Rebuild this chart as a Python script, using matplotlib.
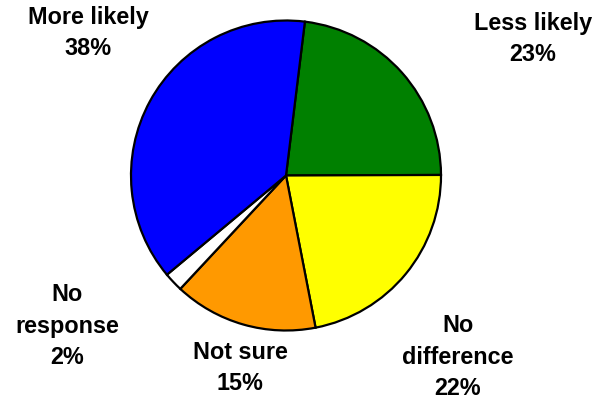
import matplotlib
matplotlib.use("Agg")
import matplotlib.pyplot as plt

categories = ["Less likely", "No difference", "Not sure", "No response", "More likely"]
values = [23, 22, 15, 2, 38]
colors = ["#008000", "#FFFF00", "#FF9900", "#FFFFFF", "#0000FF"]
label_texts = ["Less likely\n23%", "No\ndifference\n22%", "Not sure\n15%", "No\nresponse\n2%", "More likely\n38%"]
label_pos = [(1.594, 0.885), (1.110, -1.165), (-0.297, -1.235), (-1.413, -0.965), (-1.277, 0.925)]

plt.rcParams['font.family'] = ['Liberation Sans', 'DejaVu Sans']
fig = plt.figure(figsize=(5.95, 4.02), dpi=100)
ax = fig.add_axes([0, 0, 1, 1])
ax.pie(values, colors=colors, startangle=83.0, counterclock=False, radius=1,
       center=(0, 0), wedgeprops=dict(edgecolor="black", linewidth=1.6))
for t, (x, y) in zip(label_texts, label_pos):
    ax.text(x, y, t, ha="center", va="center", fontsize=16.8, fontweight="bold",
            linespacing=1.45)
cy = 176.5
ax.set_xlim(-286/155, (595-286)/155)
ax.set_ylim(-(402-cy)/155, cy/155)
ax.set_aspect("equal")
ax.axis("off")
fig.savefig("out.png", dpi=100)
